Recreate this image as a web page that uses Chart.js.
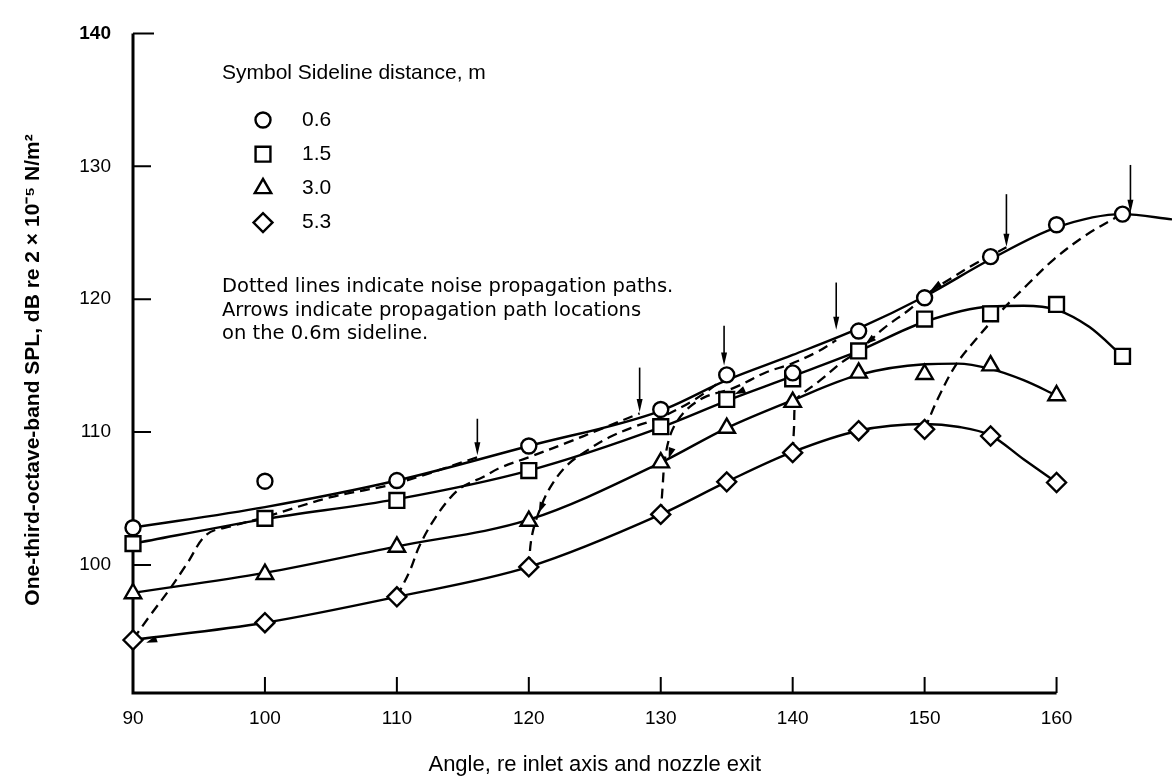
<!DOCTYPE html>
<html>
<head>
<meta charset="utf-8">
<script src="https://cdn.jsdelivr.net/npm/chart.js@4.4.1/dist/chart.umd.min.js"></script>
<style>
  html, body { margin: 0; padding: 0; background: #fff; }
  #wrap { position: relative; width: 1172px; height: 780px; }
</style>
</head>
<body>
<div id="wrap"><canvas id="spl"></canvas></div>
<script>
// ---- values ----
const xTicks = [90, 100, 110, 120, 130, 140, 150, 160];
const yTicks = [100, 110, 120, 130, 140];

// measured points, one pair of arrays per sideline distance
const ang06 = [90, 100, 110, 120, 130, 135, 140, 145, 150, 155, 160, 165];
const spl06 = [102.8, 106.3, 106.35, 108.95, 111.7, 114.3, 114.45, 117.6, 120.1, 123.2, 125.6, 126.4];
const ang15 = [90, 100, 110, 120, 130, 135, 140, 145, 150, 155, 160, 165];
const spl15 = [101.6, 103.5, 104.85, 107.1, 110.4, 112.45, 114.0, 116.1, 118.5, 118.9, 119.6, 115.7];
const ang30 = [90, 100, 110, 120, 130, 135, 140, 145, 150, 155, 160];
const spl30 = [97.85, 99.3, 101.35, 103.3, 107.7, 110.3, 112.25, 114.45, 114.35, 115.0, 112.75];
const ang53 = [90, 100, 110, 120, 130, 135, 140, 145, 150, 155, 160];
const spl53 = [94.35, 95.65, 97.6, 99.85, 103.8, 106.25, 108.45, 110.1, 110.2, 109.7, 106.2];

// faired (solid) curves
const fitAng06 = [90, 100, 110, 120, 130, 135, 140, 145, 150, 155, 160, 165, 168.75];
const fit06 = [102.8, 104.35, 106.35, 108.95, 111.6, 113.9, 115.8, 117.8, 120.2, 123.0, 125.4, 126.4, 126.0];
const fitAng15 = [90, 100, 110, 120, 130, 135, 140, 145, 150, 155, 157.5, 160, 162.5, 165];
const fit15 = [101.6, 103.45, 104.95, 107.1, 110.35, 112.35, 114.2, 116.1, 118.3, 119.45, 119.5, 119.2, 117.9, 115.7];
const fitAng30 = [90, 100, 110, 120, 130, 135, 140, 145, 150, 152.5, 155, 157.5, 160];
const fit30 = [97.9, 99.4, 101.4, 103.4, 107.7, 110.3, 112.4, 114.3, 115.1, 115.15, 114.75, 113.9, 112.75];
const fitAng53 = [90, 100, 110, 120, 130, 135, 140, 145, 150, 152.5, 155, 157.5, 160];
const fit53 = [94.35, 95.65, 97.6, 99.85, 103.8, 106.25, 108.5, 110.1, 110.6, 110.4, 109.75, 107.95, 106.2];

// propagation paths (dashed), from the 5.3 m curve up to the 0.6 m curve
const pathAng1 = [90, 91.3, 92.8, 94.1, 95.6, 97.6, 100, 105, 110, 116.1];
const pathSpl1 = [94.4, 96.2, 98.2, 100.1, 102.3, 102.95, 103.6, 105.1, 106.15, 108.1];
const pathAng2 = [110, 111.0, 111.7, 112.75, 114.0, 115.0, 116.5, 117.8, 120, 122.9, 125.4, 128.4];
const pathSpl2 = [97.6, 99.6, 101.4, 103.3, 105.0, 105.9, 106.6, 107.3, 108.1, 109.2, 110.2, 111.4];
const pathAng3 = [120, 120.2, 120.7, 121.6, 122.9, 124.4, 126.1, 128, 130, 132.5, 134.8];
const pathSpl3 = [99.85, 102.0, 103.8, 105.8, 107.5, 108.6, 109.6, 110.4, 111.1, 112.4, 114.0];
const pathAng4 = [130, 130.15, 130.3, 130.7, 131.3, 132.2, 133.5, 135.5, 138, 139.8, 141.8, 143.3];
const pathSpl4 = [103.8, 106.0, 107.85, 109.7, 110.9, 111.9, 112.7, 113.3, 114.5, 115.1, 116.0, 116.9];
const pathAng5 = [140, 140.1, 140.2, 140.5, 142.1, 143.8, 145, 146.9, 148.9, 150.2, 151.9, 153.9, 156.2];
const pathSpl5 = [108.5, 110.3, 112.3, 112.7, 113.9, 115.3, 116.1, 117.8, 119.26, 120.4, 121.5, 122.7, 123.9];
const pathAng6 = [150, 151.0, 152.4, 154.0, 155.7, 157.8, 159.8, 162.2, 164.6];
const pathSpl6 = [110.2, 112.5, 115.1, 117.1, 119.0, 121.1, 123.0, 124.8, 126.2];

// down-arrows marking path locations on the 0.6 m sideline
const arrowAng = [116.1, 128.4, 134.8, 143.3, 156.2, 165.6];
const arrowTop = [111.0, 114.85, 118.0, 121.25, 127.9, 130.1];
const arrowTip = [108.25, 111.5, 115.0, 117.7, 123.95, 126.5];

// small arrowheads where paths land on a curve: tip point and a point behind it
const headAng = [91.0, 120.75, 130.6, 135.6, 145.5, 150.5];
const headSpl = [94.15, 103.9, 108.0, 112.85, 116.6, 120.7];
const headFromAng = [92.3, 121.6, 131.2, 137.2, 147.0, 152.0];
const headFromSpl = [94.6, 105.9, 109.8, 113.6, 117.8, 121.7];

const xTitle = 'Angle, re inlet axis and nozzle exit';
const yTitle = 'One-third-octave-band SPL, dB re 2 \u00d7 10\u207b\u2075 N/m\u00b2';
const legendTitle = 'Symbol Sideline distance, m';
const legendLabels = ['0.6', '1.5', '3.0', '5.3'];
const noteLines = [
  'Dotted lines indicate noise propagation paths.',
  'Arrows indicate propagation path locations',
  'on the 0.6m sideline.',
];

// ---- helpers ----
const INK = '#000';
const FONT = "'Liberation Sans', Arial, sans-serif";
const NOTE_FONT = "'DejaVu Sans', Verdana, sans-serif";
const zip = (xs, ys) => xs.map((x, i) => ({ x, y: ys[i] }));

const markers = [
  { style: 'circle', r: 7.5 },
  { style: 'rect', r: 10.5 },
  { style: 'triangle', r: 9.5 },
  { style: 'rectRot', r: 9.5 },
];

function markerSet(xs, ys, m) {
  return {
    data: zip(xs, ys), showLine: false, clip: false, order: 0,
    pointStyle: m.style, pointRadius: m.r, pointHoverRadius: m.r,
    pointBackgroundColor: '#fff', pointBorderColor: INK, pointBorderWidth: 2.4,
  };
}
function curveSet(xs, ys) {
  return {
    data: zip(xs, ys), order: 2, borderColor: INK, borderWidth: 2.4,
    pointRadius: 0, cubicInterpolationMode: 'monotone', fill: false,
  };
}
function pathSet(xs, ys) {
  return {
    data: zip(xs, ys), order: 1, borderColor: INK, borderWidth: 2.3,
    borderDash: [10, 6], pointRadius: 0, tension: 0.35, fill: false,
  };
}

function arrowHead(ctx, tx, ty, fx, fy, len, half) {
  const a = Math.atan2(ty - fy, tx - fx);
  ctx.beginPath();
  ctx.moveTo(tx, ty);
  ctx.lineTo(tx - len * Math.cos(a) + half * Math.sin(a), ty - len * Math.sin(a) - half * Math.cos(a));
  ctx.lineTo(tx - len * Math.cos(a) - half * Math.sin(a), ty - len * Math.sin(a) + half * Math.cos(a));
  ctx.closePath();
  ctx.fill();
}

// axes (stop at 160 though the plot runs on), inward ticks, arrows, legend, notes
const frame = {
  id: 'frame',
  beforeDatasetsDraw(chart) {
    const { ctx, scales: { x, y } } = chart;
    const x0 = x.getPixelForValue(xTicks[0]);
    const x1 = x.getPixelForValue(xTicks[xTicks.length - 1]);
    const yb = y.getPixelForValue(y.min);
    const yt = y.getPixelForValue(y.max);
    ctx.save();
    ctx.strokeStyle = INK;
    ctx.lineWidth = 3;
    ctx.beginPath();
    ctx.moveTo(x0, yt); ctx.lineTo(x0, yb); ctx.lineTo(x1, yb);
    ctx.stroke();
    ctx.lineWidth = 2;
    ctx.beginPath();
    yTicks.forEach(v => {
      const p = y.getPixelForValue(v);
      ctx.moveTo(x0, p); ctx.lineTo(x0 + (v === 140 ? 21 : 18), p);
    });
    xTicks.slice(1).forEach(v => {
      const p = x.getPixelForValue(v);
      ctx.moveTo(p, yb); ctx.lineTo(p, yb - 16);
    });
    ctx.stroke();
    ctx.restore();
  },
  afterDatasetsDraw(chart) {
    const { ctx, scales: { x, y } } = chart;
    ctx.save();
    ctx.strokeStyle = INK;
    ctx.fillStyle = INK;
    ctx.lineWidth = 1.6;
    arrowAng.forEach((a, i) => {
      const px = x.getPixelForValue(a);
      const top = y.getPixelForValue(arrowTop[i]);
      const tip = y.getPixelForValue(arrowTip[i]);
      ctx.beginPath(); ctx.moveTo(px, top); ctx.lineTo(px, tip - 6); ctx.stroke();
      arrowHead(ctx, px, tip, px, top, 13, 3);
    });
    headAng.forEach((a, i) => {
      arrowHead(ctx,
        x.getPixelForValue(a), y.getPixelForValue(headSpl[i]),
        x.getPixelForValue(headFromAng[i]), y.getPixelForValue(headFromSpl[i]), 11, 3.5);
    });
    ctx.restore();
  },
  afterDraw(chart) {
    const { ctx, scales: { x } } = chart;
    ctx.save();
    ctx.textBaseline = 'middle';
    ctx.fillStyle = INK;

    // x title centred under the drawn axis (90..160), not the whole plot
    ctx.textAlign = 'center';
    ctx.font = `22px ${FONT}`;
    const xc = (x.getPixelForValue(xTicks[0]) + x.getPixelForValue(xTicks[xTicks.length - 1])) / 2;
    ctx.fillText(xTitle, xc, 765);

    ctx.save();
    ctx.translate(33, 370);
    ctx.rotate(-Math.PI / 2);
    ctx.font = `bold 21px ${FONT}`;
    ctx.fillText(yTitle, 0, 0);
    ctx.restore();

    ctx.textAlign = 'left';
    ctx.font = `21px ${FONT}`;
    ctx.fillText(legendTitle, 222, 73);
    legendLabels.forEach((t, i) => {
      const cy = 120 + i * 34.2;
      const m = markers[i];
      ctx.fillStyle = '#fff';
      ctx.strokeStyle = INK;
      ctx.lineWidth = 2.4;
      Chart.helpers.drawPoint(ctx, { pointStyle: m.style, radius: m.r, rotation: 0, borderWidth: 2.4 }, 263, cy);
      ctx.fillStyle = INK;
      ctx.fillText(t, 302, cy);
    });
    ctx.font = `19.5px ${NOTE_FONT}`;
    noteLines.forEach((t, i) => ctx.fillText(t, 222, 287 + i * 23.5));
    ctx.restore();
  },
};

new Chart(document.getElementById('spl'), {
  type: 'line',
  data: {
    datasets: [
      markerSet(ang06, spl06, markers[0]),
      markerSet(ang15, spl15, markers[1]),
      markerSet(ang30, spl30, markers[2]),
      markerSet(ang53, spl53, markers[3]),
      curveSet(fitAng06, fit06),
      curveSet(fitAng15, fit15),
      curveSet(fitAng30, fit30),
      curveSet(fitAng53, fit53),
      pathSet(pathAng1, pathSpl1),
      pathSet(pathAng2, pathSpl2),
      pathSet(pathAng3, pathSpl3),
      pathSet(pathAng4, pathSpl4),
      pathSet(pathAng5, pathSpl5),
      pathSet(pathAng6, pathSpl6),
    ],
  },
  options: {
    responsive: true,
    maintainAspectRatio: false,
    animation: false,
    events: [],
    // no auto padding for marker overflow: the plot runs to the right edge
    layout: { autoPadding: false, padding: { top: 18, right: 0, left: 0, bottom: 0 } },
    plugins: { legend: { display: false }, tooltip: { enabled: false } },
    scales: {
      x: {
        type: 'linear', min: 90, max: 168.75,
        afterBuildTicks: s => { s.ticks = xTicks.map(v => ({ value: v })); },
        afterFit: s => { s.height = 87; s.paddingLeft = 0; s.paddingRight = 0; },
        grid: { display: false, drawTicks: false },
        border: { display: false },
        ticks: { color: INK, padding: 14, maxRotation: 0, font: { family: FONT, size: 19 } },
      },
      y: {
        type: 'linear', min: 90.36, max: 140,
        afterBuildTicks: s => { s.ticks = yTicks.map(v => ({ value: v })); },
        afterFit: s => { s.width = 133; },
        grid: { display: false, drawTicks: false },
        border: { display: false },
        ticks: {
          color: INK, padding: 22,
          font: c => ({ family: FONT, size: 19, weight: c.tick && c.tick.value === 140 ? 'bold' : 'normal' }),
        },
      },
    },
  },
  plugins: [frame],
});
</script>
</body>
</html>
